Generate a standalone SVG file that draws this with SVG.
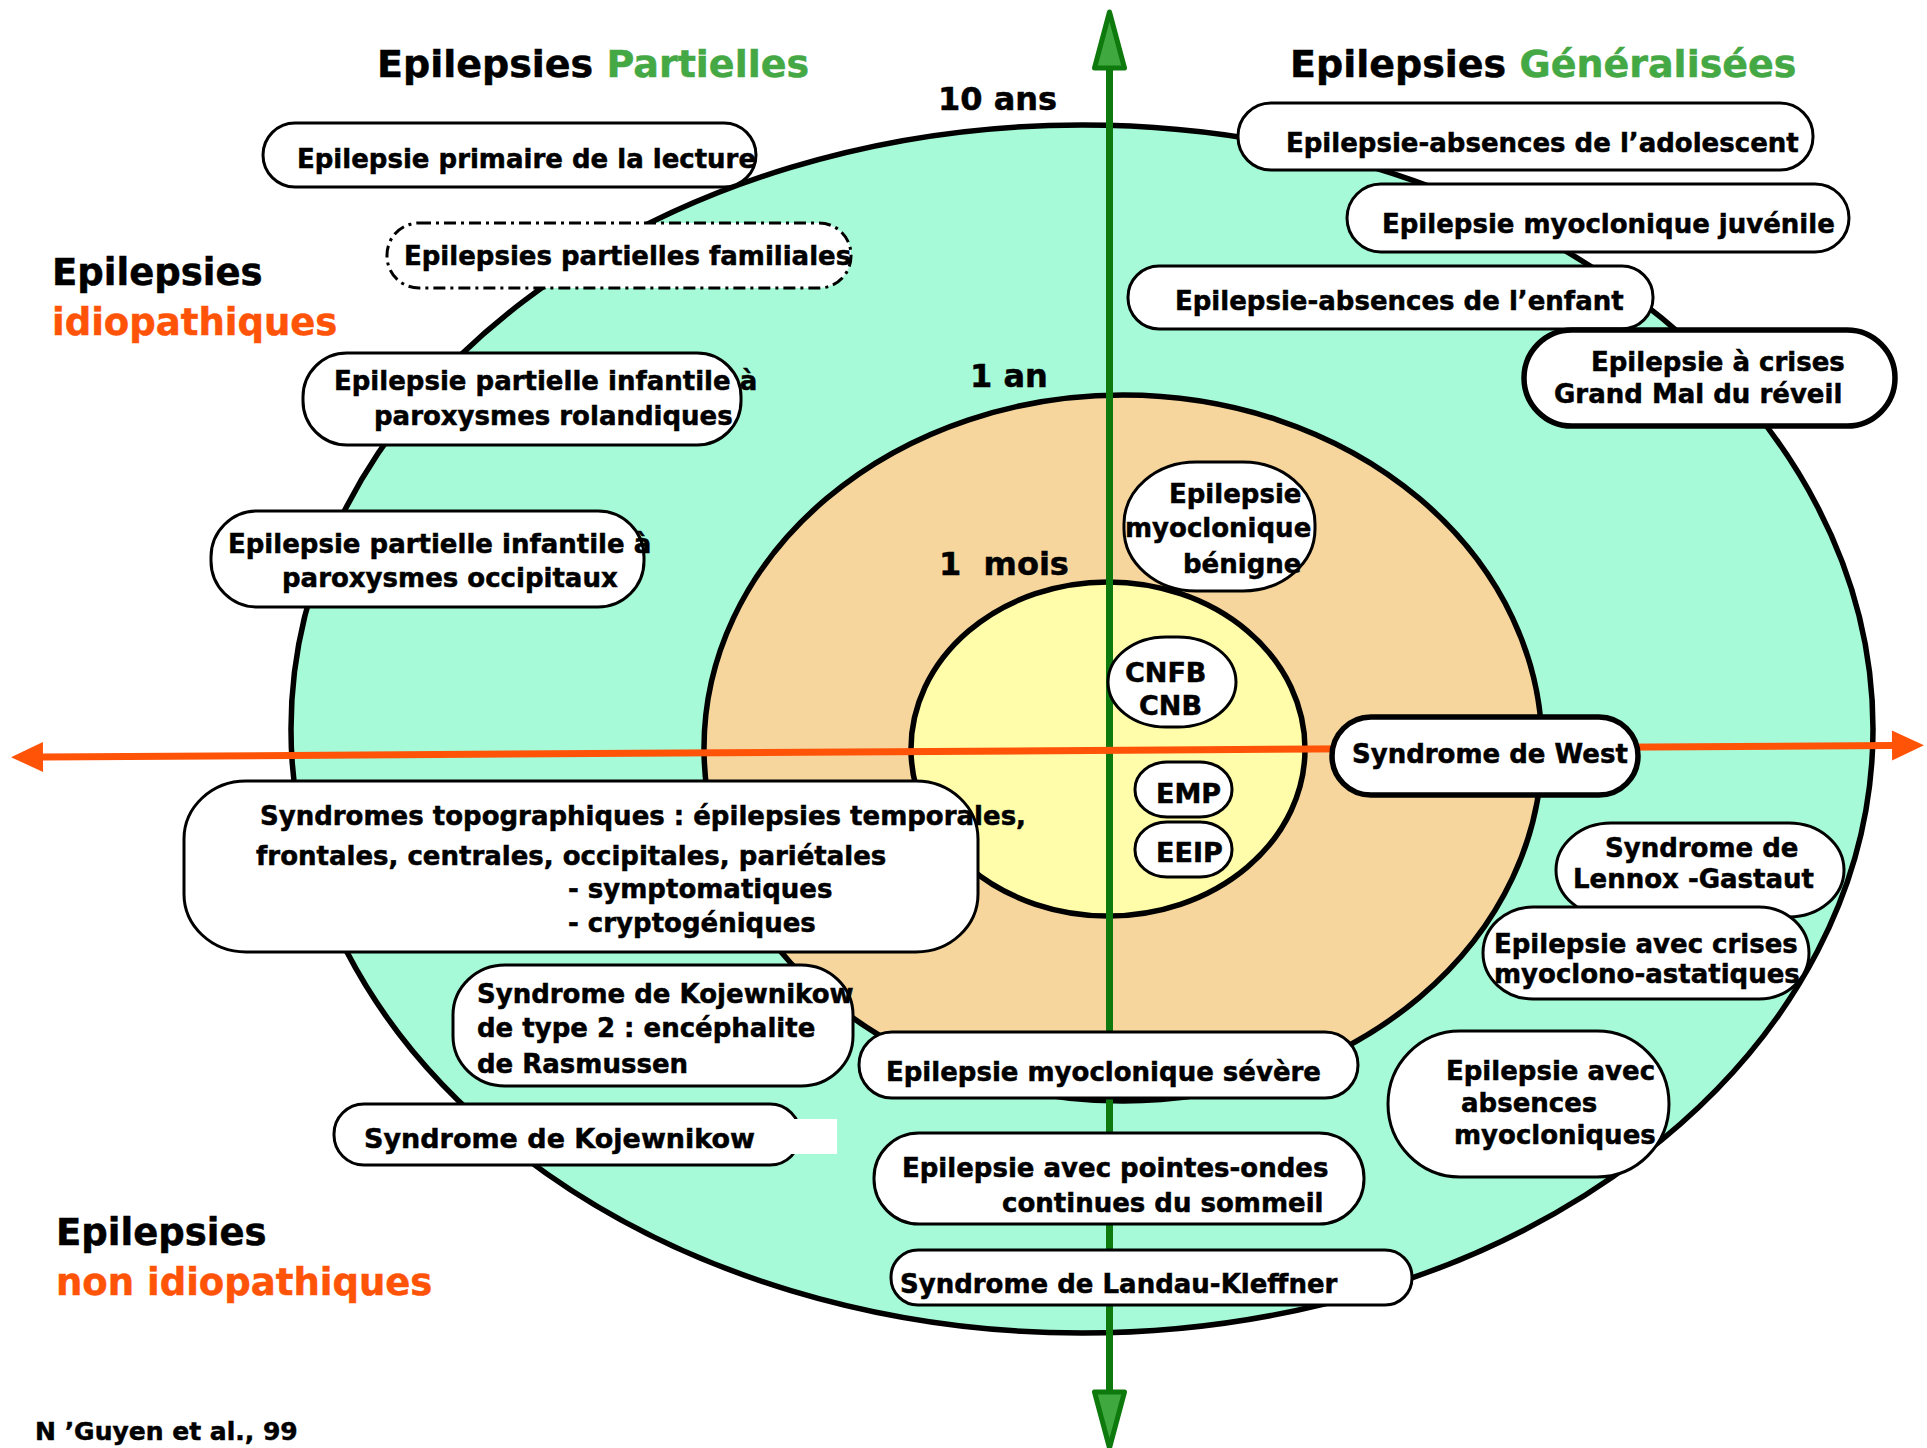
<svg xmlns="http://www.w3.org/2000/svg" width="1927" height="1448" viewBox="0 0 1927 1448">
<style>
text { font-family: "DejaVu Sans", "Liberation Sans", sans-serif; font-weight: bold; fill: #000; stroke: #000; stroke-width: 0.5; }
.t { font-size: 26px; }
.c { font-size: 27px; }
.big { font-size: 38px; }
.lbl { font-size: 37px; }
.age { font-size: 32px; }
.foot { font-size: 25px; }
.green { fill: #44A844; stroke: #44A844; }
.orange { fill: #FF5308; stroke: #FF5308; }
.box { fill: #fff; stroke: #000; stroke-width: 3; }
.thick { stroke-width: 5.5; }
.dash { stroke-dasharray: 12 5 3 5; }
.ring { stroke: #000; stroke-width: 5.5; }
</style>
<defs>
<marker id="arrO" markerUnits="userSpaceOnUse" markerWidth="40" markerHeight="40" refX="0" refY="0" viewBox="-2 -20 40 40" orient="auto-start-reverse" overflow="visible">
<path d="M0,-15 L32,0 L0,15 Z" fill="#FF5308"/>
</marker>
<marker id="arrG" markerUnits="userSpaceOnUse" markerWidth="70" markerHeight="40" refX="0" refY="0" viewBox="-5 -20 70 40" orient="auto-start-reverse" overflow="visible">
<path d="M0,-15 L56,0 L0,15 Z" fill="#3FA83F" stroke="#0E7A0E" stroke-width="5" stroke-linejoin="round"/>
</marker>
</defs>
<rect width="1927" height="1448" fill="#fff"/>

<g id="zones">
<ellipse id="zone-10ans" cx="1082" cy="729" rx="791" ry="604" fill="#A6FAD7" class="ring"/>
<ellipse id="zone-1an" cx="1123" cy="748" rx="419" ry="353" fill="#F6D69C" class="ring"/>
<ellipse id="zone-1mois" cx="1108" cy="749" rx="197" ry="167" fill="#FFFCAA" class="ring"/>
</g>

<g id="connectors">
<line id="axe-age" x1="1109.5" y1="68" x2="1109.5" y2="1392" stroke="#0E7A0E" stroke-width="7" marker-start="url(#arrG)" marker-end="url(#arrG)"/>
<line id="axe-type" x1="43" y1="757" x2="1892" y2="745.5" stroke="#FF5308" stroke-width="7" marker-start="url(#arrO)" marker-end="url(#arrO)"/>
</g>

<g id="labels">
<text class="big" x="377" y="77">Epilepsies <tspan class="green">Partielles</tspan></text>
<text class="big" x="1290" y="77">Epilepsies <tspan class="green">Généralisées</tspan></text>
<text class="age" x="938" y="110">10 ans</text>
<text class="age" x="970" y="387">1 an</text>
<text class="age" x="939" y="575" xml:space="preserve">1  mois</text>
<text class="lbl" x="52" y="285">Epilepsies</text>
<text class="lbl orange" x="52" y="335">idiopathiques</text>
<text class="lbl" x="56" y="1245">Epilepsies</text>
<text class="lbl orange" x="56" y="1295">non idiopathiques</text>
<text class="foot" x="35" y="1440">N ’Guyen et al., 99</text>
</g>

<g id="n-lecture">
<rect class="box" x="263" y="123" width="493" height="64" rx="32"/>
<text class="t" x="297" y="168">Epilepsie primaire de la lecture</text>
</g>
<g id="n-familiales">
<rect class="box dash" x="387" y="223" width="464" height="65" rx="32"/>
<text class="t" x="404" y="265">Epilepsies partielles familiales</text>
</g>
<g id="n-rolandiques">
<rect class="box" x="303" y="353" width="438" height="92" rx="44"/>
<text class="t" x="334" y="390">Epilepsie partielle infantile à</text>
<text class="t" x="374" y="425">paroxysmes rolandiques</text>
</g>
<g id="n-occipitaux">
<rect class="box" x="211" y="511" width="433" height="96" rx="46"/>
<text class="t" x="228" y="553">Epilepsie partielle infantile à</text>
<text class="t" x="282" y="587">paroxysmes occipitaux</text>
</g>
<g id="n-topographiques">
<rect class="box" x="184" y="781" width="794" height="171" rx="62" ry="58"/>
<text class="t" x="260" y="825">Syndromes topographiques : épilepsies temporales,</text>
<text class="t" x="256" y="865">frontales, centrales, occipitales, pariétales</text>
<text class="t" x="568" y="898">- symptomatiques</text>
<text class="t" x="568" y="932">- cryptogéniques</text>
</g>
<g id="n-rasmussen">
<rect class="box" x="453" y="965" width="400" height="121" rx="52" ry="50"/>
<text class="t" x="477" y="1003">Syndrome de Kojewnikow</text>
<text class="t" x="477" y="1037">de type 2 : encéphalite</text>
<text class="t" x="477" y="1073">de Rasmussen</text>
</g>
<g id="n-kojewnikow">
<rect class="box" x="334" y="1104" width="466" height="61" rx="30"/>
<rect x="791" y="1119" width="46" height="35" fill="#fff"/>
<text class="c" x="364" y="1148">Syndrome de Kojewnikow</text>
</g>
<g id="n-severe">
<rect class="box" x="859" y="1032" width="499" height="66" rx="33"/>
<text class="t" x="886" y="1081">Epilepsie myoclonique sévère</text>
</g>
<g id="n-pointes-ondes">
<rect class="box" x="874" y="1133" width="490" height="91" rx="45"/>
<text class="t" x="902" y="1177">Epilepsie avec pointes-ondes</text>
<text class="t" x="1002" y="1212">continues du sommeil</text>
</g>
<g id="n-landau">
<rect class="box" x="891" y="1250" width="521" height="55" rx="27"/>
<text class="t" x="900" y="1293">Syndrome de Landau-Kleffner</text>
</g>
<g id="n-absences-myocloniques">
<rect class="box" x="1388" y="1031" width="281" height="146" rx="72" ry="73"/>
<text class="t" x="1446" y="1080">Epilepsie avec</text>
<text class="t" x="1461" y="1112">absences</text>
<text class="t" x="1454" y="1144">myocloniques</text>
</g>
<g id="n-lennox">
<rect class="box" x="1556" y="823" width="288" height="94" rx="55" ry="47"/>
<text class="t" x="1605" y="857">Syndrome de</text>
<text class="t" x="1573" y="888">Lennox -Gastaut</text>
</g>
<g id="n-astatiques">
<rect class="box" x="1483" y="907" width="326" height="92" rx="50" ry="46"/>
<text class="t" x="1494" y="953">Epilepsie avec crises</text>
<text class="t" x="1494" y="983">myoclono-astatiques</text>
</g>
<g id="n-west">
<rect class="box thick" x="1332" y="717" width="306" height="78" rx="39"/>
<text class="t" x="1352" y="763">Syndrome de West</text>
</g>
<g id="n-emp">
<rect class="box" x="1135" y="762" width="97" height="55" rx="32" ry="27"/>
<text class="c" x="1156" y="803">EMP</text>
</g>
<g id="n-eeip">
<rect class="box" x="1135" y="822" width="97" height="55" rx="32" ry="27"/>
<text class="c" x="1156" y="862">EEIP</text>
</g>
<g id="n-cnfb">
<rect class="box" x="1108" y="637" width="128" height="90" rx="58" ry="45"/>
<text class="c" x="1125" y="682">CNFB</text>
<text class="c" x="1139" y="715">CNB</text>
</g>
<g id="n-benigne">
<rect class="box" x="1124" y="462" width="191" height="129" rx="72" ry="62"/>
<text class="t" x="1169" y="503">Epilepsie</text>
<text class="t" x="1125" y="537">myoclonique</text>
<text class="t" x="1183" y="573">bénigne</text>
</g>
<g id="n-adolescent">
<rect class="box" x="1238" y="103" width="575" height="67" rx="33"/>
<text class="t" x="1286" y="152">Epilepsie-absences de l’adolescent</text>
</g>
<g id="n-juvenile">
<rect class="box" x="1347" y="184" width="502" height="68" rx="34"/>
<text class="t" x="1382" y="233">Epilepsie myoclonique juvénile</text>
</g>
<g id="n-enfant">
<rect class="box" x="1128" y="266" width="525" height="63" rx="31"/>
<text class="t" x="1175" y="310">Epilepsie-absences de l’enfant</text>
</g>
<g id="n-grand-mal">
<rect class="box thick" x="1524" y="330" width="371" height="96" rx="48"/>
<text class="t" x="1591" y="371">Epilepsie à crises</text>
<text class="t" x="1554" y="403">Grand Mal du réveil</text>
</g>
</svg>
